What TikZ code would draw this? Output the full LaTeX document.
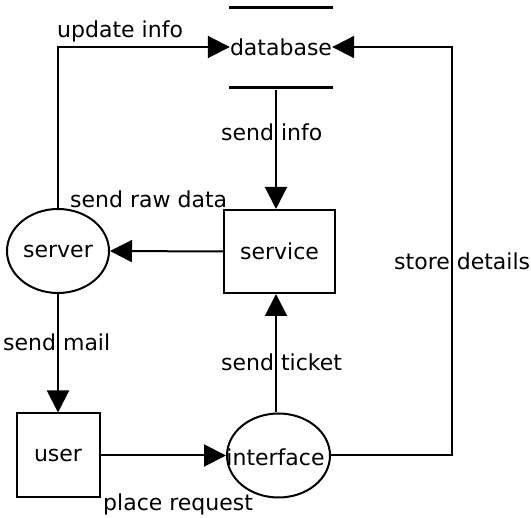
\documentclass[tikz,border=0pt]{standalone}
\usepackage{fontspec}
\setmainfont{DejaVu Sans}
\usetikzlibrary{arrows.meta,shapes.geometric}
\begin{document}
\begin{tikzpicture}[x=1pt,y=-1pt,
  every node/.style={font=\fontsize{22}{26}\selectfont},
  proc/.style={draw,line width=2pt,ellipse,inner sep=0pt},
  ent/.style={draw,line width=2pt,rectangle,inner sep=0pt},
  flow/.style={line width=2pt,-{Triangle[length=22pt 0 0,width=22pt 0 0]}},
  dbline/.style={line width=3pt},
  lbl/.style={inner sep=0pt,anchor=base west}]
\useasboundingbox[fill=white] (0,0) rectangle (531,518);

% data store
\node[inner sep=0pt] (db) at (281,47) {database};
\coordinate (dbtopL) at (229,8);  \coordinate (dbtopR) at (333,8);
\coordinate (dbbotL) at (229,88); \coordinate (dbbotR) at (333,88);
\draw[dbline] (dbtopL) -- (dbtopR);
\draw[dbline] (dbbotL) -- (dbbotR);
\coordinate (dbfoot) at (276,90);

% processes and entities
\node[ent,minimum width=111pt,minimum height=83pt] (svc) at (279.5,251.5) {service};
\node[proc,minimum width=102pt,minimum height=84pt] (srv) at (58,251) {server};
\node[ent,minimum width=83pt,minimum height=84pt] (usr) at (58,455.5) {user};
\node[proc,minimum width=103pt,minimum height=84pt] (ifc) at (278.5,455.5) {};
\node[inner sep=0pt] (ifctext) at (275.5,457) {interface};
\coordinate (col) at (276,0);
\coordinate (rightcol) at (452,0);

% flows
\draw[flow] (srv.north) |- (db.west);
\draw[flow] (dbfoot) -- (dbfoot |- svc.north);
\draw[flow] (svc.west) -- (srv.east);
\draw[flow] (srv.south) -- (usr.north);
\draw[flow] (usr.east) -- (ifc.west);
\draw[flow] (ifc.north -| col) -- (svc.south -| col);
\draw[flow] (ifc.east) -| (rightcol |- db.east) -- (db.east);

% flow labels
\node[lbl] (l1) at (57,38) {update info};
\node[lbl] (l2) at (221,141) {send info};
\node[lbl] (l3) at (70,208) {send raw data};
\node[lbl] (l4) at (394,270) {store details};
\node[lbl] (l5) at (3,351) {send mail};
\node[lbl] (l6) at (221,371) {send ticket};
\node[lbl] (l7) at (103,511) {place request};
\end{tikzpicture}
\end{document}
